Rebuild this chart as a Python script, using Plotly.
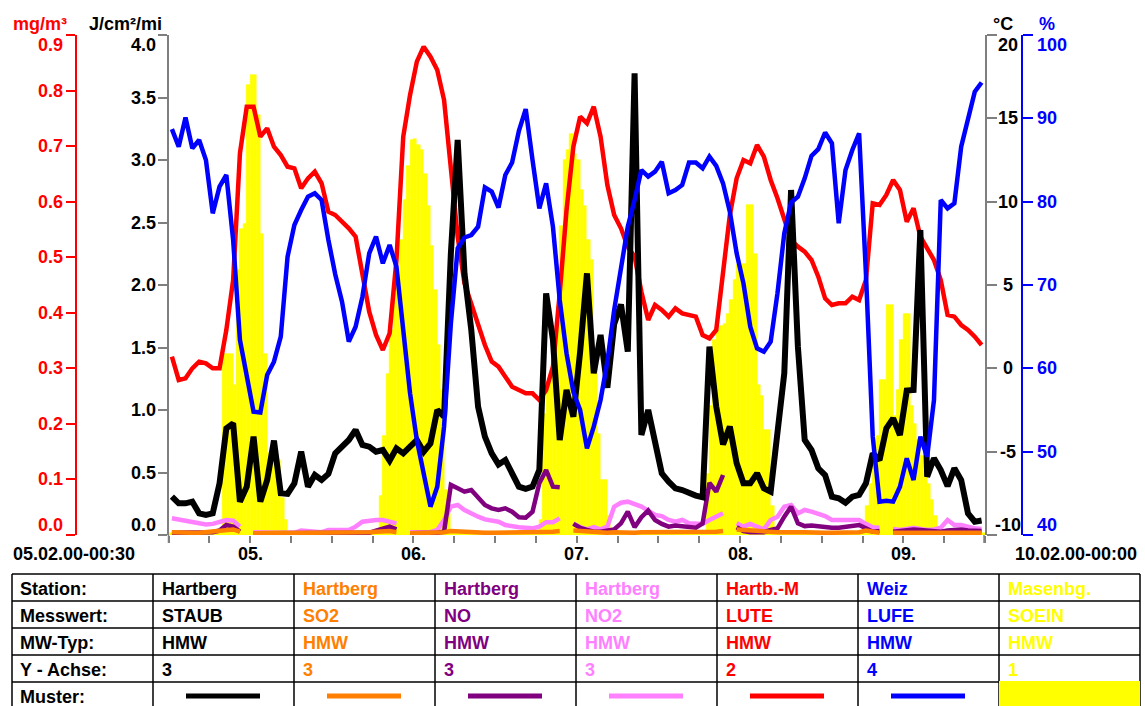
import plotly.graph_objects as go

W, H = 1145, 706

# ---------------------------------------------------------------------------
# Measurement data, 05.02.00 00:30 .. 10.02.00 00:00
# line series: hourly samples; solar input: half-hourly means
# ---------------------------------------------------------------------------
day_labels = ["05.", "06.", "07.", "08.", "09."]
start_label = "05.02.00-00:30"
end_label = "10.02.00-00:00"

HOURS = [k + 0.5 for k in range(120)]          # hours after 05.02. 00:00
SLOTS = [j * 0.5 + 0.25 for j in range(240)]   # half-hour slot centres

# STAUB Hartberg, mg/m3
staub_05 = [0.069, 0.057, 0.057, 0.060, 0.039, 0.036, 0.039, 0.093, 0.192, 0.201, 0.060, 0.087,
            0.177, 0.060, 0.099, 0.170, 0.075, 0.074, 0.093, 0.150, 0.087, 0.108, 0.099, 0.110]
staub_06 = [0.147, 0.159, 0.171, 0.189, 0.162, 0.159, 0.150, 0.153, 0.134, 0.156, 0.147, 0.159,
            0.171, 0.150, 0.165, 0.225, 0.213, 0.507, 0.711, 0.471, 0.369, 0.231, 0.177, 0.147]
staub_07 = [0.127, 0.135, 0.108, 0.087, 0.083, 0.087, 0.117, 0.435, 0.351, 0.171, 0.261, 0.213,
            0.330, 0.471, 0.291, 0.360, 0.265, 0.380, 0.415, 0.330, 0.831, 0.180, 0.225, 0.165]
staub_08 = [0.111, 0.096, 0.084, 0.081, 0.075, 0.071, 0.068, 0.339, 0.231, 0.163, 0.195, 0.129,
            0.093, 0.093, 0.111, 0.084, 0.078, 0.177, 0.291, 0.621, 0.339, 0.171, 0.153, 0.120]
staub_09 = [0.108, 0.069, 0.066, 0.058, 0.069, 0.072, 0.093, 0.147, 0.135, 0.192, 0.210, 0.180,
            0.260, 0.261, 0.549, 0.105, 0.138, 0.117, 0.088, 0.120, 0.099, 0.039, 0.024, 0.026]

# SO2 Hartberg, mg/m3 (None = calibration gap)
so2_05 = [0.005, 0.004, 0.004, 0.004, 0.004, 0.005, 0.005, 0.006, 0.009, 0.010, 0.006, None,
          0.003, 0.003, 0.003, 0.003, 0.004, 0.004, 0.004, 0.004, 0.004, 0.004, 0.004, 0.004]
so2_06 = [0.004, 0.004, 0.004, 0.004, 0.004, 0.005, 0.006, 0.007, 0.007, 0.005, None, 0.003,
          0.003, 0.003, 0.003, 0.004, 0.005, 0.007, 0.006, 0.005, 0.005, 0.005, 0.004, 0.004]
so2_07 = [0.004, 0.004, 0.004, 0.004, 0.004, 0.004, 0.005, 0.006, 0.006, 0.007, None, 0.008,
          0.007, 0.006, 0.005, 0.004, 0.004, 0.005, 0.004, 0.004, 0.004, 0.005, 0.005, 0.004]
so2_08 = [0.004, 0.004, 0.004, 0.004, 0.004, 0.004, 0.004, 0.005, 0.006, 0.007, None, 0.010,
          0.009, 0.009, 0.008, 0.006, 0.005, 0.005, 0.005, 0.006, 0.005, 0.005, 0.004, 0.004]
so2_09 = [0.004, 0.004, 0.004, 0.004, 0.004, 0.005, 0.008, 0.005, 0.004, None, 0.004, 0.004,
          0.005, 0.005, 0.004, 0.004, 0.004, 0.005, 0.005, 0.005, 0.005, 0.005, 0.004, 0.004]

# NO Hartberg, mg/m3
no_05 = [0.004, 0.004, 0.003, 0.003, 0.003, 0.004, 0.005, 0.008, 0.018, 0.015, 0.006, None,
         0.003, 0.003, 0.003, 0.003, 0.003, 0.003, 0.003, 0.003, 0.003, 0.004, 0.003, 0.003]
no_06 = [0.003, 0.003, 0.003, 0.003, 0.003, 0.004, 0.008, 0.012, 0.015, 0.010, None, 0.003,
         0.003, 0.003, 0.003, 0.004, 0.006, 0.090, 0.084, 0.078, 0.081, 0.066, 0.054, 0.048]
no_07 = [0.045, 0.048, 0.042, 0.032, 0.031, 0.042, 0.093, 0.117, 0.087, 0.086, None, 0.020,
         0.013, 0.009, 0.006, 0.006, 0.007, 0.010, 0.021, 0.042, 0.014, 0.032, 0.044, 0.027]
no_08 = [0.020, 0.015, 0.017, 0.016, 0.014, 0.013, 0.021, 0.094, 0.078, 0.108, None, 0.014,
         0.007, 0.005, 0.004, 0.005, 0.009, 0.012, 0.033, 0.051, 0.021, 0.016, 0.017, 0.015]
no_09 = [0.014, 0.013, 0.013, 0.014, 0.016, 0.018, 0.012, 0.006, 0.007, None, 0.006, 0.008,
         0.009, 0.010, 0.009, 0.008, 0.007, 0.006, 0.008, 0.009, 0.010, 0.008, 0.008, 0.007]

# NO2 Hartberg, mg/m3
no2_05 = [0.030, 0.028, 0.024, 0.022, 0.021, 0.019, 0.020, 0.024, 0.027, 0.026, 0.015, None,
          0.005, 0.004, 0.004, 0.004, 0.004, 0.005, 0.004, 0.008, 0.007, 0.005, 0.005, 0.009]
no2_06 = [0.008, 0.009, 0.009, 0.015, 0.024, 0.026, 0.027, 0.027, 0.024, 0.021, None, 0.005,
          0.005, 0.006, 0.005, 0.009, 0.027, 0.051, 0.054, 0.045, 0.038, 0.033, 0.028, 0.026]
no2_07 = [0.024, 0.018, 0.015, 0.014, 0.013, 0.012, 0.015, 0.023, 0.023, 0.030, None, 0.021,
          0.014, 0.010, 0.014, 0.010, 0.015, 0.051, 0.058, 0.060, 0.056, 0.051, 0.044, 0.036]
no2_08 = [0.034, 0.027, 0.024, 0.027, 0.021, 0.021, 0.020, 0.027, 0.032, 0.039, None, 0.021,
          0.015, 0.020, 0.014, 0.010, 0.027, 0.033, 0.051, 0.054, 0.039, 0.045, 0.042, 0.039]
no2_09 = [0.034, 0.027, 0.027, 0.027, 0.026, 0.027, 0.020, 0.014, 0.013, None, 0.011, 0.009,
          0.011, 0.013, 0.011, 0.009, 0.010, 0.013, 0.027, 0.018, 0.018, 0.014, 0.012, 0.011]

# LUTE Hartb.-M, deg C
lute_05 = [0.7, -0.7, -0.6, 0.0, 0.4, 0.3, 0.0, 0.0, 2.3, 5.3, 12.9, 15.7,
           15.7, 13.9, 14.4, 13.3, 12.8, 12.1, 12.0, 10.8, 11.4, 11.8, 11.1, 9.4]
lute_06 = [9.2, 8.8, 8.4, 7.9, 5.5, 3.4, 2.0, 1.1, 2.1, 6.5, 13.9, 16.4,
           18.4, 19.3, 18.7, 17.9, 16.1, 11.7, 7.9, 5.1, 3.9, 2.5, 1.4, 0.4]
lute_07 = [0.1, -0.5, -1.1, -1.3, -1.5, -1.5, -1.9, -1.3, 0.1, 4.5, 9.5, 13.3,
           15.1, 14.7, 15.7, 13.9, 11.0, 9.2, 8.4, 7.3, 6.7, 4.6, 2.9, 3.8]
lute_08 = [3.5, 3.1, 3.6, 3.3, 3.2, 3.1, 2.0, 1.8, 2.3, 5.9, 9.2, 11.4,
           12.5, 12.3, 13.4, 12.7, 11.3, 10.2, 8.9, 7.7, 7.3, 7.0, 6.5, 5.5]
lute_09 = [4.2, 3.8, 3.9, 3.9, 4.3, 4.1, 5.3, 9.9, 9.8, 10.4, 11.3, 10.7,
           8.8, 9.6, 7.9, 7.2, 6.5, 5.3, 3.2, 3.1, 2.6, 2.3, 1.9, 1.4]

# LUFE Weiz, %
lufe_05 = [88.7, 86.6, 90.1, 86.4, 87.4, 85.0, 78.6, 81.8, 83.2, 75.4, 63.4, 59.4,
           54.8, 54.7, 59.2, 60.8, 63.8, 73.4, 77.2, 79.0, 80.6, 81.0, 80.2, 75.4]
lufe_06 = [71.3, 68.0, 63.2, 65.0, 68.6, 73.8, 75.8, 72.6, 74.8, 72.2, 64.2, 57.0,
           51.4, 47.3, 43.4, 45.8, 53.0, 65.4, 74.4, 75.7, 76.0, 77.0, 81.7, 81.2]
lufe_07 = [79.3, 83.2, 84.7, 88.5, 91.1, 85.0, 79.2, 82.2, 77.0, 68.2, 61.8, 57.2,
           55.0, 50.4, 53.0, 56.2, 60.8, 67.0, 72.2, 77.0, 80.2, 83.8, 83.0, 83.6]
lufe_08 = [84.8, 81.0, 81.4, 82.0, 84.7, 84.7, 84.0, 85.4, 84.3, 82.2, 78.8, 73.8,
           70.2, 65.0, 62.4, 62.0, 63.2, 69.0, 76.2, 79.9, 80.6, 82.8, 85.5, 86.3]
lufe_09 = [88.3, 87.0, 77.4, 83.8, 86.2, 88.2, 71.4, 51.8, 44.0, 44.1, 44.0, 45.8,
           49.2, 46.6, 51.8, 49.4, 56.2, 80.2, 79.2, 79.8, 86.6, 90.0, 93.2, 94.3]

# SOEIN Masenbg., J/cm2/min, 48 half-hour means per day
soein_05 = [0.0] * 16 + [1.45, 1.45, 1.45, 1.2, 2.12, 2.45, 2.49, 3.6, 3.68, 3.68, 3.36, 2.41,
                         1.45, 0.66, 0.66, 0.65, 0.6, 0.3, 0.12] + [0.0] * 13
soein_06 = [0.0] * 14 + [0.31, 0.79, 1.29, 1.64, 1.93, 2.09, 2.36, 2.68, 2.95, 3.16, 3.17, 3.12,
                         3.08, 2.89, 2.63, 2.31, 1.96, 1.52, 1.16, 0.36, 0.17] + [0.0] * 13
soein_07 = [0.0] * 13 + [0.12, 0.97, 1.16, 1.29, 1.35, 1.83, 2.47, 3.0, 3.08, 3.21, 3.05, 3.0,
                         2.76, 2.63, 2.36, 2.2, 1.4, 0.81, 0.44, 0.44, 0.15] + [0.0] * 14
soein_08 = [0.0] * 14 + [0.49, 1.03, 1.56, 1.64, 1.67, 1.69, 1.77, 1.88, 2.04, 2.16, 2.17, 2.17,
                         2.64, 2.64, 2.25, 1.2, 1.11, 0.84, 0.84, 0.23] + [0.0] * 14
soein_09 = [0.0] * 13 + [0.23, 0.41, 0.76, 0.79, 1.24, 1.24, 1.84, 1.84, 0.95, 1.16, 1.56, 1.77,
                         1.77, 1.03, 0.89, 0.76, 0.63, 0.49, 0.41, 0.28, 0.15] + [0.0] * 14

staub = staub_05 + staub_06 + staub_07 + staub_08 + staub_09
so2 = so2_05 + so2_06 + so2_07 + so2_08 + so2_09
no = no_05 + no_06 + no_07 + no_08 + no_09
no2 = no2_05 + no2_06 + no2_07 + no2_08 + no2_09
lute = lute_05 + lute_06 + lute_07 + lute_08 + lute_09
lufe = lufe_05 + lufe_06 + lufe_07 + lufe_08 + lufe_09
soein = soein_05 + soein_06 + soein_07 + soein_08 + soein_09

# legend table contents
row_titles = ["Station:", "Messwert:", "MW-Typ:", "Y - Achse:", "Muster:"]
stations = ["Hartberg", "Hartberg", "Hartberg", "Hartberg", "Hartb.-M", "Weiz", "Masenbg."]
components = ["STAUB", "SO2", "NO", "NO2", "LUTE", "LUFE", "SOEIN"]
mw_types = ["HMW"] * 7
axis_numbers = ["3", "3", "3", "3", "2", "4", "1"]

# axis scales
mgm3_ticks = [0.0, 0.1, 0.2, 0.3, 0.4, 0.5, 0.6, 0.7, 0.8, 0.9]
jcm_ticks = [0.0, 0.5, 1.0, 1.5, 2.0, 2.5, 3.0, 3.5, 4.0]
degc_ticks = [-10, -5, 0, 5, 10, 15, 20]
pct_ticks = [40, 50, 60, 70, 80, 90, 100]

# ---------------------------------------------------------------------------
BLACK, ORANGE, PURPLE, PINK = "#000000", "#FF8000", "#800080", "#FF80FF"
RED, BLUE, YELLOW, GRAY = "#FF0000", "#0000FF", "#FFFF00", "#7f7f7f"
series_colors = [BLACK, ORANGE, PURPLE, PINK, RED, BLUE, YELLOW]
FONT = "Liberation Sans, Arial, sans-serif"


def fx(px):
    return px / W


def fy(py):
    return 1 - py / H


def font(color, size=18):
    return dict(family=FONT, size=size, color=color, weight="bold")


PLOT_L, PLOT_R, PLOT_T, PLOT_B = 168.5, 985.0, 35.0, 535.0

fig = go.Figure()

fig.add_trace(go.Bar(x=SLOTS, y=soein, width=0.5, xaxis="x", yaxis="y",
                     marker=dict(color=YELLOW, line=dict(width=0.6, color=YELLOW)),
                     hoverinfo="skip"))
fig.add_trace(go.Scatter(x=HOURS, y=lute, xaxis="x", yaxis="y2", mode="lines",
                         line=dict(color=RED, width=4.5), cliponaxis=False))
for values, color, width in ((no2, PINK, 4.5), (no, PURPLE, 4.5), (so2, ORANGE, 4.5), (staub, BLACK, 6)):
    fig.add_trace(go.Scatter(x=HOURS, y=values, xaxis="x", yaxis="y3", mode="lines",
                             connectgaps=False, line=dict(color=color, width=width),
                             cliponaxis=False))
fig.add_trace(go.Scatter(x=HOURS, y=lufe, xaxis="x", yaxis="y4", mode="lines",
                         line=dict(color=BLUE, width=4.5), cliponaxis=False))

dom_x = [fx(PLOT_L), fx(PLOT_R)]
dom_y = [fy(PLOT_B), fy(PLOT_T)]
common = dict(showgrid=False, zeroline=False, showticklabels=False, ticks="outside",
              tickwidth=1.5, fixedrange=True, showline=True, linewidth=1.5)

fig.update_layout(
    width=W, height=H, margin=dict(l=0, r=0, t=0, b=0),
    paper_bgcolor="white", plot_bgcolor="white", showlegend=False,
    bargap=0, font=font(BLACK),
    xaxis=dict(domain=dom_x, range=[0, 120], showgrid=False, zeroline=False, showline=False,
               showticklabels=False, ticks="outside", tickmode="linear", tick0=0, dtick=6,
               ticklen=7, tickcolor=GRAY, tickwidth=1.5, fixedrange=True),
    yaxis=dict(domain=dom_y, range=[0, 4], anchor="x", side="left", tickmode="array",
               tickvals=jcm_ticks, ticklen=9, tickcolor=GRAY, linecolor=GRAY, **common),
    yaxis2=dict(overlaying="y", range=[-10, 20], anchor="x", side="right", tickmode="array",
                tickvals=degc_ticks, ticklen=10, tickcolor=GRAY, linecolor=GRAY, **common),
    yaxis3=dict(overlaying="y", range=[0, 0.9], anchor="free", position=fx(76), side="left",
                tickmode="array", tickvals=mgm3_ticks, ticklen=9, tickcolor=RED,
                linecolor=RED, **common),
    yaxis4=dict(overlaying="y", range=[40, 100], anchor="free", position=fx(1022), side="right",
                tickmode="array", tickvals=pct_ticks, ticklen=10, tickcolor=BLUE,
                linecolor=BLUE, **common),
)

shapes = []
ann = []

# zero-level strip of the solar input bars
shapes.append(dict(type="line", xref="x", yref="y", x0=0, x1=120, y0=0, y1=0,
                   line=dict(color=YELLOW, width=5), layer="below"))
# axis lines continue slightly below the plot
for xpos in (PLOT_L, PLOT_R - 1):
    shapes.append(dict(type="line", xref="paper", yref="paper", x0=fx(xpos), x1=fx(xpos),
                       y0=fy(PLOT_B), y1=fy(PLOT_B + 8), line=dict(color=GRAY, width=1.5)))


def tick_labels(values, fmt, yref, xpx, anchor, color):
    lo, hi = values[0], values[-1]
    for v in values:
        shift = -10 if v == hi else (10 if v == lo else 0)
        ann.append(dict(text=fmt.format(v), xref="paper", yref=yref, x=fx(xpx), y=v,
                        xanchor=anchor, yanchor="middle", yshift=shift, showarrow=False,
                        font=font(color)))


tick_labels(mgm3_ticks, "{:.1f}", "y3", 65, "right", RED)
tick_labels(jcm_ticks, "{:.1f}", "y", 158, "right", BLACK)
tick_labels(degc_ticks, "{:d}", "y2", 1008, "center", BLACK)
tick_labels(pct_ticks, "{:d}", "y4", 1035, "left", BLUE)

# axis units
for text, xpx, anchor, color in (("mg/m³", 69, "right", RED), ("J/cm²/mi", 164, "right", BLACK),
                                 ("°C", 1003, "center", BLACK), ("%", 1047, "center", BLUE)):
    ann.append(dict(text=text, xref="paper", yref="paper", x=fx(xpx), y=fy(24),
                    xanchor=anchor, yanchor="middle", showarrow=False, font=font(color)))

# time axis labels
for d, lab in enumerate(day_labels):
    ann.append(dict(text=lab, xref="x", yref="paper", x=12 + 24 * d, y=fy(554),
                    xanchor="center", yanchor="middle", showarrow=False, font=font(BLACK)))
ann.append(dict(text=start_label, xref="paper", yref="paper", x=fx(11), y=fy(554),
                xanchor="left", yanchor="middle", showarrow=False, font=font(BLACK)))
ann.append(dict(text=end_label, xref="paper", yref="paper", x=fx(1139), y=fy(554),
                xanchor="right", yanchor="middle", showarrow=False, font=font(BLACK)))

# legend table
col_edges = [12, 153, 294, 435, 576, 717, 858, 999, 1140]
row_edges = [574, 601, 628, 655, 682, 709]

for y in row_edges:
    shapes.append(dict(type="line", xref="paper", yref="paper", x0=fx(col_edges[0]),
                       x1=fx(col_edges[-1]), y0=fy(y), y1=fy(y),
                       line=dict(color=BLACK, width=1.5)))
for x in col_edges:
    shapes.append(dict(type="line", xref="paper", yref="paper", x0=fx(x), x1=fx(x),
                       y0=fy(row_edges[0]), y1=fy(row_edges[-1]),
                       line=dict(color=BLACK, width=1.5)))

row_mid = [(row_edges[i] + row_edges[i + 1]) / 2 + 1 for i in range(5)]
for i, title in enumerate(row_titles):
    ann.append(dict(text=title, xref="paper", yref="paper", x=fx(col_edges[0] + 6), y=fy(row_mid[i]),
                    xanchor="left", yanchor="middle", showarrow=False, font=font(BLACK)))

for c in range(7):
    left = col_edges[c + 1]
    color = series_colors[c]
    for r, cells in enumerate((stations, components, mw_types, axis_numbers)):
        ann.append(dict(text=cells[c], xref="paper", yref="paper", x=fx(left + 7), y=fy(row_mid[r]),
                        xanchor="left", yanchor="middle", showarrow=False, font=font(color)))
    if components[c] == "SOEIN":
        shapes.append(dict(type="rect", xref="paper", yref="paper", x0=fx(left), x1=fx(col_edges[c + 2]),
                           y0=fy(681), y1=fy(712), fillcolor=YELLOW, line=dict(width=0)))
    else:
        shapes.append(dict(type="line", xref="paper", yref="paper", x0=fx(left + 33), x1=fx(left + 107),
                           y0=fy(696), y1=fy(696), line=dict(color=color, width=5)))

fig.update_layout(shapes=shapes, annotations=ann)
fig.write_html("out.html")
